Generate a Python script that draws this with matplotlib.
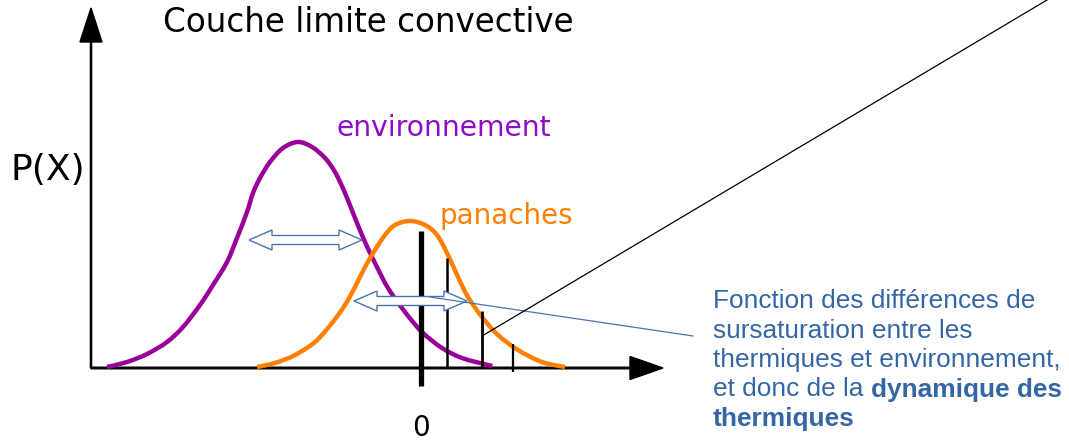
import numpy as np
import matplotlib
matplotlib.use('Agg')
import matplotlib.pyplot as plt
from matplotlib.patches import Polygon, PathPatch
from matplotlib.path import Path

# schematic units: x = 0 at the "0" tick, y = 0 on the x axis
env_x = [-314, -294, -274, -254, -238, -221, -208, -194, -184, -174, -168, -161,
         -151, -138, -123, -109, -96, -86, -76, -66, -56, -46, -33, -16, 1, 21,
         41, 67, 71]
env_y = [1, 6, 14, 26, 41, 63, 83, 106, 130, 156, 175, 190,
         206, 220, 226, 221, 210, 196, 175, 150, 126, 105, 80, 56, 36, 20,
         10, 3, 2]

pan_x = [-164, -146, -126, -106, -89, -76, -66, -56, -46, -36, -26, -11,
         4, 16, 27, 37, 47, 61, 77, 97, 121, 144]
pan_y = [1, 5, 13, 26, 45, 63, 81, 101, 118, 133, 143, 147,
         143, 133, 113, 91, 71, 51, 33, 18, 6, 1]

# vertical bars under the plume tail
bar_x = [0, 26, 61, 92]
bar_top = [137, 110, 57, 24]
bar_bottom = [-18, 0, 0, -4]
bar_lw = [3.8, 1.8, 2.0, 1.6]

# double arrows (left tip, right tip, height)
arrows = [(-172, -59, 128), (-67, 46, 67)]

title = "Couche limite convective"
note_lines = ["Fonction des différences de",
              "sursaturation entre les",
              "thermiques et environnement,"]
note_line4 = ("et donc de la ", "dynamique des")
note_line5 = "thermiques"

purple = '#990099'
violet = '#8f0ac4'
orange = '#ff8000'
blue = '#3465a4'


def smooth_path(xs, ys):
    # bezier segments passing through every read point
    p = np.column_stack([xs, ys]).astype(float)
    ext = np.vstack([p[0], p, p[-1]])
    verts = [p[0]]
    codes = [Path.MOVETO]
    for i in range(len(p) - 1):
        a, b, c, d = ext[i], ext[i + 1], ext[i + 2], ext[i + 3]
        verts += [b + (c - a) / 6, c - (d - b) / 6, c]
        codes += [Path.CURVE4] * 3
    return Path(verts, codes)


fig = plt.figure(figsize=(10.69, 4.42), dpi=100)
ax = fig.add_axes([0, 0, 1, 1])
ax.set_xlim(-421, 648)
ax.set_ylim(-74, 368)
ax.axis('off')

# axes with filled heads
ax.arrow(-330, 0, 0, 360, width=1.2, head_width=22, head_length=34,
         length_includes_head=True, color='black', zorder=2)
ax.arrow(-330, 0, 572, 0, width=1.6, head_width=23, head_length=33,
         length_includes_head=True, color='black', zorder=2)

ax.add_patch(PathPatch(smooth_path(env_x, env_y), facecolor='none', edgecolor=purple,
                       lw=3.2, capstyle='butt', zorder=3))
ax.add_patch(PathPatch(smooth_path(pan_x, pan_y), facecolor='none', edgecolor=orange,
                       lw=3.2, capstyle='butt', zorder=3))

for x, t, b, w in zip(bar_x, bar_top, bar_bottom, bar_lw):
    ax.plot([x, x], [b, t], color='black', lw=w, solid_capstyle='butt', zorder=4)

# hollow double arrows
hl, hw, bw = 23, 10, 4.5
for x0, x1, y in arrows:
    verts = [(x0, y), (x0 + hl, y + hw), (x0 + hl, y + bw), (x1 - hl, y + bw),
             (x1 - hl, y + hw), (x1, y), (x1 - hl, y - hw), (x1 - hl, y - bw),
             (x0 + hl, y - bw), (x0 + hl, y - hw)]
    ax.add_patch(Polygon(verts, closed=True, facecolor='white', edgecolor='#4a72b0',
                         lw=1.0, zorder=5))

# pointer lines
ax.plot([9, 272], [71, 32], color='#4a72b0', lw=0.9, zorder=6)
ax.plot([61, 700], [32, 412], color='black', lw=0.9, zorder=6)

ax.text(-258, 346, title, fontsize=23.5, va='center', ha='left', color='black')
ax.text(-410, 198, "P(X)", fontsize=26, va='center', ha='left', color='black')
ax.text(-84, 240, "environnement", fontsize=20.3, va='center', ha='left', color=violet)
ax.text(19, 152, "panaches", fontsize=20, va='center', ha='left', color=orange)
ax.text(0, -60, "0", fontsize=20, va='center', ha='center', color='black')

nfont = dict(family='Liberation Sans', fontsize=18.9, color=blue, va='baseline', ha='left')
for i, s in enumerate(note_lines):
    ax.text(292, 60 - 29.5 * i, s, **nfont)
t4 = ax.text(292, 60 - 29.5 * 3, note_line4[0], **nfont)
fig.canvas.draw()
bb = t4.get_window_extent().transformed(ax.transData.inverted())
ax.text(bb.x1, 60 - 29.5 * 3, note_line4[1], fontweight='bold', **nfont)
ax.text(292, 60 - 29.5 * 4, note_line5, fontweight='bold', **nfont)

fig.savefig('out.png', dpi=100)
